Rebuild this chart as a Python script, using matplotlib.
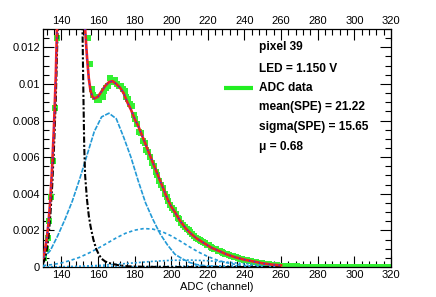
import numpy as np
import matplotlib
matplotlib.use('Agg')
import matplotlib.pyplot as plt
from matplotlib.ticker import MultipleLocator, FixedLocator, FixedFormatter

plt.rcParams['font.family'] = ['Liberation Sans', 'DejaVu Sans']

# ADC histogram, one value per channel bin (centres 130.5 ... 319.5)
adc_x = np.arange(130.5, 320.0, 1.0)
adc_y = [0.0005, 0.0010, 0.0016, 0.0025, 0.0038, 0.0058, 0.0087, 0.0125, 0.0170,
         0.022, 0.027, 0.031, 0.034, 0.036, 0.037, 0.037, 0.035, 0.032, 0.028, 0.024, 0.020, 0.017, 0.0150,
         0.0136, 0.0125, 0.0111, 0.0097, 0.0094, 0.0093, 0.0091,
         0.0091, 0.0093, 0.0093, 0.0096, 0.0098, 0.0099, 0.0103, 0.0102, 0.0101, 0.0102,
         0.0100, 0.0099, 0.0099, 0.0097, 0.0096, 0.0093, 0.0092, 0.0089, 0.0088, 0.0083,
         0.0081, 0.0078, 0.0074, 0.0073, 0.0069, 0.0068, 0.0064, 0.0063, 0.0060, 0.0057,
         0.0055, 0.0052, 0.0050, 0.0047, 0.0045, 0.0043, 0.0040, 0.0038, 0.0036, 0.0034,
         0.0032, 0.0031, 0.0029, 0.0027, 0.0026, 0.0024, 0.0023, 0.0022, 0.0021, 0.0020,
         0.0019, 0.0018, 0.0017, 0.0016, 0.00155, 0.0015, 0.0014, 0.00135, 0.0013, 0.0012,
         0.00118, 0.0011, 0.00105, 0.0010, 0.00096, 0.0009, 0.00088, 0.00082, 0.00078, 0.00073,
         0.0007, 0.00066, 0.00062, 0.00058, 0.00055, 0.00052, 0.0005, 0.00046, 0.00044, 0.0004,
         0.00038, 0.00036, 0.00033, 0.00031, 0.0003, 0.00027, 0.00025, 0.00023, 0.00022, 0.0002,
         0.00018, 0.00016, 0.00015, 0.00014, 0.00012, 0.00011, 0.0001, 0.00009, 0.00008, 0.00007,
         0.00006, 0.00006, 0.00005, 0.00005, 0.00004, 0.00004, 0.00003, 0.00003, 0.00003, 0.00002,
         0.00002, 0.00002, 0.00002, 0.00002, 0.00002,
         0.00001, 0.00001, 0.00001, 0.00001, 0.00001, 0.00001, 0.00001, 0.00001, 0.00001, 0.00001,
         0, 0, 0, 0, 0, 0, 0, 0, 0, 0, 0, 0, 0, 0, 0, 0, 0, 0, 0, 0,
         0, 0, 0, 0, 0, 0, 0, 0, 0, 0, 0, 0, 0, 0, 0]

# total fit
fit_x = [130, 131, 132, 133, 134, 135, 136, 137, 138, 140, 145, 149, 151, 152, 153, 154, 155, 156,
         157, 158, 160, 162, 164, 166, 168, 170, 172, 174, 176, 178, 180, 182, 184, 186, 188, 190,
         192, 194, 196, 198, 200, 202, 205, 208, 211, 214, 218, 222, 226, 230, 235, 240, 245, 250,
         255, 260]
fit_y = [0.0005, 0.0009, 0.0015, 0.0024, 0.0037, 0.0055, 0.0077, 0.0105, 0.0145, 0.026, 0.040,
         0.030, 0.020, 0.0162, 0.0130, 0.0115, 0.0103, 0.0096, 0.0093, 0.0092, 0.0093, 0.0096,
         0.0099, 0.0101, 0.01015, 0.0100, 0.0098, 0.0095, 0.0090, 0.0086, 0.0081, 0.0077, 0.0072,
         0.0067, 0.0062, 0.0057, 0.0052, 0.0047, 0.0042, 0.0037, 0.0033, 0.0030, 0.0025, 0.0021,
         0.0018, 0.00155, 0.0013, 0.00105, 0.00088, 0.0007, 0.00053, 0.0004, 0.0003, 0.0002,
         0.00013, 0.00009]

# pedestal
ped_x = [130, 131, 132, 133, 134, 135, 136, 137, 138, 139, 141, 143, 145, 147, 149, 150.5, 151.5,
         152, 152.5, 153, 154, 155, 156, 157.5, 159, 160.5, 162, 164, 167, 171, 176, 185, 200, 260]
ped_y = [0.0002, 0.0004, 0.0009, 0.0016, 0.0028, 0.0044, 0.0065, 0.0092, 0.0130, 0.018, 0.027,
         0.034, 0.037, 0.034, 0.026, 0.019, 0.0135, 0.0098, 0.0066, 0.0050, 0.0037, 0.0028, 0.0022,
         0.0015, 0.0010, 0.00068, 0.00045, 0.0003, 0.00019, 0.0001, 0.00004, 0.00001, 0.0, 0.0]

# 1 p.e.
pe1_x = [130, 134, 138, 142, 146, 150, 154, 158, 162, 166, 170, 174, 178, 182, 186, 190, 194, 198,
         202, 206, 210, 214, 220, 230, 260]
pe1_y = [0.00046, 0.0009, 0.0017, 0.0026, 0.0036, 0.0048, 0.0061, 0.0074, 0.0082, 0.0084, 0.0081,
         0.0071, 0.0060, 0.0047, 0.0035, 0.0026, 0.0018, 0.0012, 0.0007, 0.00045, 0.00025, 0.00013,
         0.00005, 0.00001, 0.0]

# 2 p.e.
pe2_x = [130, 135, 140, 145, 150, 155, 160, 165, 170, 175, 180, 185, 190, 195, 200, 205, 210, 215,
         220, 225, 230, 235, 240, 250, 260]
pe2_y = [0.00008, 0.00013, 0.00022, 0.00036, 0.00053, 0.00076, 0.00102, 0.0013, 0.00159, 0.00184,
         0.00201, 0.0021, 0.00207, 0.00193, 0.0017, 0.00141, 0.0011, 0.00081, 0.00057, 0.00038,
         0.00024, 0.00014, 0.00008, 0.00002, 0.000005]

# 3 p.e. and 4 p.e.
pe3_x = [130, 140, 150, 160, 170, 180, 190, 200, 210, 220, 230, 240, 250, 260]
pe3_y = [0.000006, 0.000017, 0.00004, 0.000082, 0.000146, 0.000227, 0.000309, 0.000366, 0.00038,
         0.000342, 0.000269, 0.000185, 0.000111, 0.000058]
pe4_y = [0.0000004, 0.000001, 0.0000023, 0.000005, 0.0000093, 0.000016, 0.000025, 0.000036,
         0.000046, 0.000053, 0.000055, 0.000052, 0.000044, 0.000034]

ytick_vals = [0, 0.002, 0.004, 0.006, 0.008, 0.01, 0.012]
ytick_labels = ['0', '0.002', '0.004', '0.006', '0.008', '0.01', '0.012']

info_lines = ['pixel 39', 'LED = 1.150 V', 'ADC data', 'mean(SPE) = 21.22',
              'sigma(SPE) = 15.65', '\u03bc = 0.68']

fig = plt.figure(figsize=(4.36, 2.97), dpi=100)
ax = fig.add_axes([43 / 436, 1 - 267 / 297, 348 / 436, 238 / 297])

blue = '#2299d6'
ax.plot(adc_x, adc_y, 's', color='#33f033', markersize=3.8, markeredgewidth=0, zorder=2)
ax.plot(pe3_x, pe4_y, color=blue, lw=1.2, ls=(0, (1.2, 1.2)), zorder=3)
ax.plot(pe3_x, pe3_y, color=blue, lw=1.2, ls=(0, (1.2, 1.2)), zorder=3)
ax.plot(pe2_x, pe2_y, color=blue, lw=1.2, ls=(0, (2, 1.5)), zorder=3)
ax.plot(pe1_x, pe1_y, color=blue, lw=1.2, ls=(0, (3, 0.8)), zorder=3)
ax.plot(ped_x, ped_y, color='black', lw=1.5, ls=(0, (3, 1, 1, 1)), zorder=4)
ax.plot(fit_x, fit_y, color='#ee2222', lw=1.9, zorder=5)
ax.plot(fit_x, fit_y, color='#2233ff', lw=0.9, ls=(0, (1, 3)), zorder=6)

ax.set_xlim(130, 320)
ax.set_ylim(0, 0.013)
ax.set_xticks(range(140, 321, 20))
ax.xaxis.set_minor_locator(MultipleLocator(4))
ax.yaxis.set_major_locator(FixedLocator(ytick_vals))
ax.yaxis.set_major_formatter(FixedFormatter(ytick_labels))
ax.yaxis.set_minor_locator(MultipleLocator(0.0005))
ax.tick_params(which='both', direction='in', top=True, right=True, labeltop=True,
               labelbottom=True, labelsize=8, width=0.8)
ax.tick_params(which='major', length=8)
ax.tick_params(which='minor', length=4)
ax.tick_params(axis='x', pad=2.5)
ax.tick_params(axis='y', pad=2)
for s in ax.spines.values():
    s.set_linewidth(0.9)
ax.set_xlabel('ADC (channel)', fontsize=8, labelpad=1)

ys = [0.924, 0.832, 0.752, 0.672, 0.588, 0.504]
for t, y in zip(info_lines, ys):
    ax.text(0.6215, y, t, transform=ax.transAxes, fontsize=8.6, fontweight='bold', va='center')
ax.plot([0.52, 0.603], [0.752, 0.752], transform=ax.transAxes, color='#22ee22', lw=3,
        solid_capstyle='butt')

fig.savefig('out.png', dpi=100)
